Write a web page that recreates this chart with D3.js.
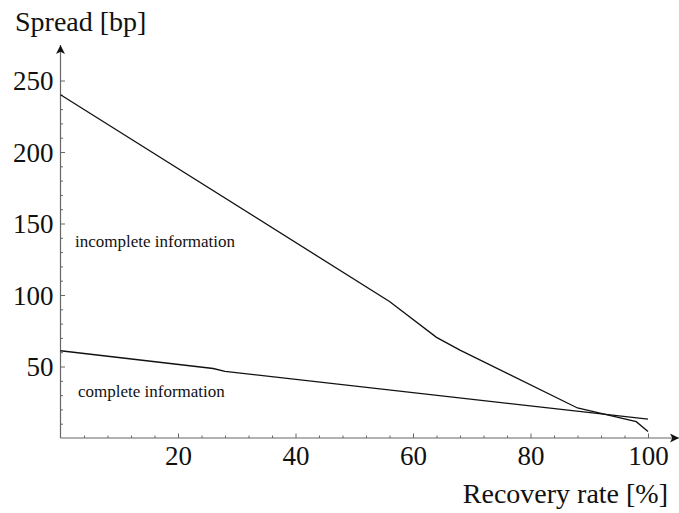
<!DOCTYPE html>
<html>
<meta charset="utf-8">
<head>
    <script src="https://cdnjs.cloudflare.com/ajax/libs/d3/7.8.5/d3.min.js"></script>
    <style>
        body { margin: 0; background: #fff; }
        svg text { font-family: "Times New Roman", Times, "Liberation Serif", "DejaVu Serif", serif; fill: #111; }
    </style>
</head>
<body>
<script>
    const W = 679, H = 513;

    // data
    const recoveryIncomplete = [0, 56, 64, 68, 88, 98, 100];
    const spreadIncomplete = [240, 95.5, 70.4, 61.5, 21, 11.4, 4.5];
    const recoveryComplete = [0, 26, 28, 100];
    const spreadComplete = [61, 48.6, 46.6, 13.2];

    const xTicks = [20, 40, 60, 80, 100];
    const yTicks = [50, 100, 150, 200, 250];
    const xMinor = d3.range(4, 100, 4).filter(v => v % 20 !== 0);
    const yMinor = d3.range(10, 250, 10).filter(v => v % 50 !== 0);

    const serif = '"Times New Roman", Times, "Liberation Serif", "DejaVu Serif", serif';

    const svg = d3.select("body").append("svg")
        .attr("width", W).attr("height", H);

    const x = d3.scaleLinear().domain([0, 100]).range([60.5, 648]);
    const y = d3.scaleLinear().domain([0, 250]).range([438, 80.5]);

    const axisColor = "#666";

    // arrowheads
    const defs = svg.append("defs");
    defs.append("marker")
        .attr("id", "arrow")
        .attr("viewBox", "0 0 10 10")
        .attr("refX", 10).attr("refY", 5)
        .attr("markerWidth", 9).attr("markerHeight", 9)
        .attr("markerUnits", "userSpaceOnUse")
        .attr("orient", "auto")
        .append("path")
        .attr("d", "M0,0 L10,5 L0,10 L2.5,5 Z")
        .attr("fill", "#111");

    // minor ticks
    svg.append("g")
        .attr("transform", `translate(0,${y(0)})`)
        .call(d3.axisBottom(x).tickValues(xMinor).tickSize(-2.5).tickFormat(""))
        .call(g => g.select(".domain").remove())
        .call(g => g.selectAll("line").attr("stroke", axisColor));
    svg.append("g")
        .attr("transform", `translate(${x(0)},0)`)
        .call(d3.axisLeft(y).tickValues(yMinor).tickSize(-2.5).tickFormat(""))
        .call(g => g.select(".domain").remove())
        .call(g => g.selectAll("line").attr("stroke", axisColor));

    // major ticks
    const xAxis = svg.append("g")
        .attr("transform", `translate(0,${y(0)})`)
        .call(d3.axisBottom(x).tickValues(xTicks).tickSize(-4.5).tickPadding(8))
        .call(g => g.select(".domain").remove())
        .attr("font-family", serif);
    xAxis.selectAll("line").attr("stroke", axisColor);
    xAxis.selectAll("text")
        .attr("font-size", 27)
        .attr("dy", "0.71em").attr("fill", "#111");

    const yAxis = svg.append("g")
        .attr("transform", `translate(${x(0)},0)`)
        .call(d3.axisLeft(y).tickValues(yTicks).tickSize(-4.5).tickPadding(7))
        .call(g => g.select(".domain").remove())
        .attr("font-family", serif);
    yAxis.selectAll("line").attr("stroke", axisColor);
    yAxis.selectAll("text")
        .attr("font-size", 27)
        .attr("dy", "0.34em").attr("fill", "#111");

    // axis lines
    svg.append("line")
        .attr("x1", x(0)).attr("y1", y(0))
        .attr("x2", x(0)).attr("y2", 45)
        .attr("stroke", axisColor).attr("stroke-width", 1.2)
        .attr("marker-end", "url(#arrow)");
    svg.append("line")
        .attr("x1", x(0)).attr("y1", y(0))
        .attr("x2", 679).attr("y2", y(0))
        .attr("stroke", axisColor).attr("stroke-width", 1.2)
        .attr("marker-end", "url(#arrow)");

    // series
    const line = d3.line().x(d => x(d[0])).y(d => y(d[1]));
    const series = [
        d3.zip(recoveryIncomplete, spreadIncomplete),
        d3.zip(recoveryComplete, spreadComplete)
    ];
    svg.selectAll(".series")
        .data(series)
        .enter()
        .append("path")
        .attr("class", "series")
        .attr("d", line)
        .attr("fill", "none")
        .attr("stroke", "#111")
        .attr("stroke-width", 1.3);

    // labels
    svg.append("text").attr("x", 15).attr("y", 31)
        .attr("font-size", 28).text("Spread [bp]");
    svg.append("text").attr("x", 668).attr("y", 503)
        .attr("font-size", 28).attr("text-anchor", "end").text("Recovery rate [%]");
    svg.append("text").attr("x", 75).attr("y", 247)
        .attr("font-size", 17).text("incomplete information");
    svg.append("text").attr("x", 78).attr("y", 397)
        .attr("font-size", 17).text("complete information");
</script>
</body>
</html>
